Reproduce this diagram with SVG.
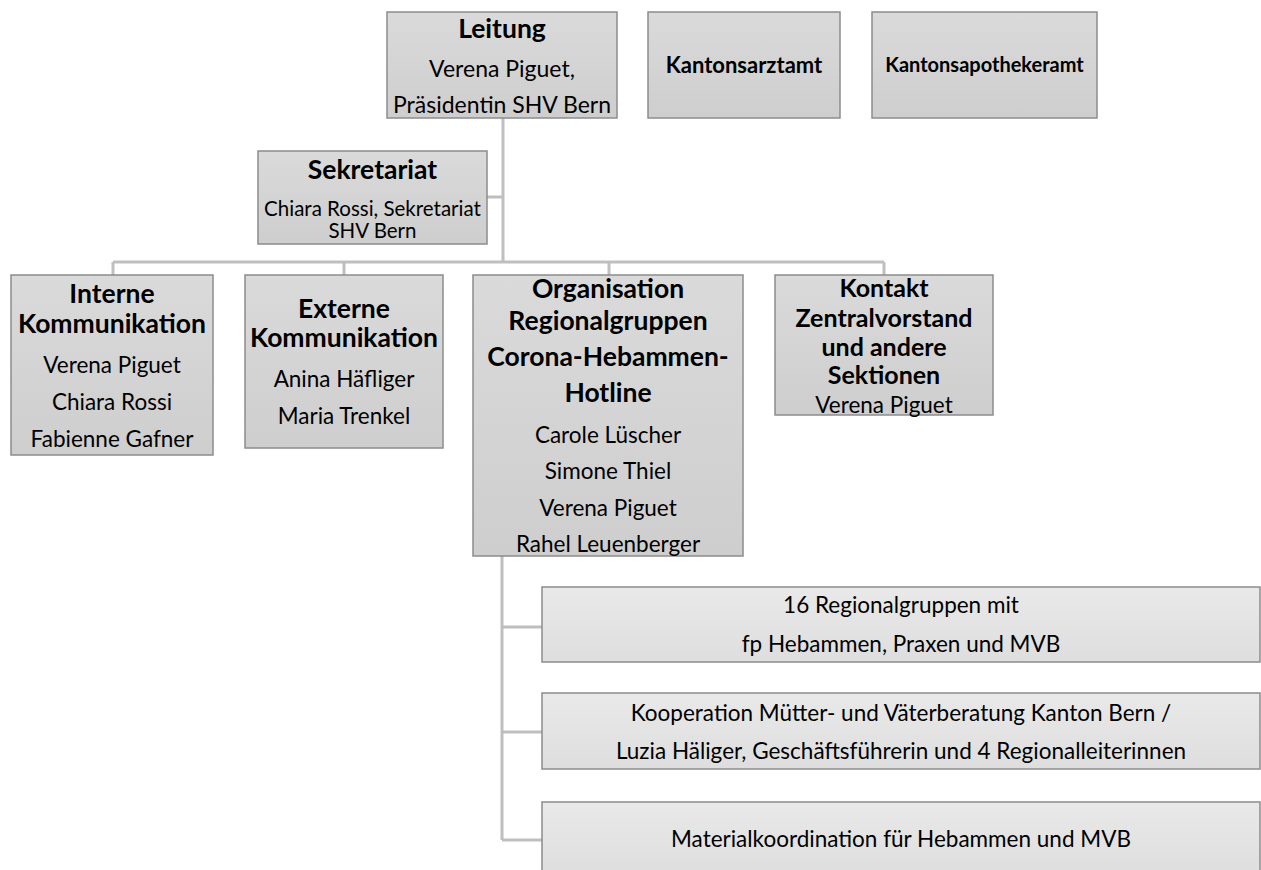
<svg xmlns="http://www.w3.org/2000/svg" width="1261" height="870" viewBox="0 0 1261 870">
<defs>
<linearGradient id="g1" x1="0" y1="0" x2="0" y2="1"><stop offset="0" stop-color="#dadada"/><stop offset="1" stop-color="#cecece"/></linearGradient>
<linearGradient id="g2" x1="0" y1="0" x2="0" y2="1"><stop offset="0" stop-color="#e9e9e9"/><stop offset="1" stop-color="#dedede"/></linearGradient>
<style>
.b{fill:url(#g1);stroke:#8c8c8c;stroke-width:1.5}
.b2{fill:url(#g2);stroke:#8c8c8c;stroke-width:1.5}
.c{fill:none;stroke:#bfbfbf;stroke-width:3}
text{font-family:Lato,"Liberation Sans",sans-serif;fill:#000;text-anchor:middle}
.t{font-weight:bold;font-size:26.5px}
.tk{font-weight:bold;font-size:25px}
.ts{font-weight:bold;font-size:22px}
.ta{font-weight:bold;font-size:20px}
.r{font-size:22.5px}
.rl{font-size:23px}
.rs{font-size:20.5px}
</style>
</defs>
<rect width="1261" height="870" fill="#fff"/>
<g id="connectors">
<path class="c" d="M503 118V262M487 197H503M113 262H884M113 262V275M344 262V275M609 262V275M884 262V275"/>
<path class="c" d="M502 556V840M502 627H542M502 732H542M502 840H542"/>
</g>
<g id="leitung">
<rect class="b" x="387" y="12" width="230" height="106"/>
<text class="t" x="502" y="38">Leitung</text>
<text class="rl" x="502" y="77">Verena Piguet,</text>
<text class="rl" x="502" y="113">Präsidentin SHV Bern</text>
</g>
<g id="kantonsarztamt">
<rect class="b" x="648" y="12" width="192" height="106"/>
<text class="ts" x="744" y="73">Kantonsarztamt</text>
</g>
<g id="kantonsapothekeramt">
<rect class="b" x="872" y="12" width="225" height="106"/>
<text class="ta" x="984.5" y="72">Kantonsapothekeramt</text>
</g>
<g id="sekretariat">
<rect class="b" x="258" y="151" width="229" height="93"/>
<text class="t" x="372.5" y="179">Sekretariat</text>
<text class="rs" x="372.5" y="216">Chiara Rossi, Sekretariat</text>
<text class="rs" x="372.5" y="238">SHV Bern</text>
</g>
<g id="interne">
<rect class="b" x="11" y="275" width="202" height="180"/>
<text class="t" x="112" y="303">Interne</text>
<text class="t" x="112" y="333">Kommunikation</text>
<text class="r" x="112" y="373">Verena Piguet</text>
<text class="r" x="112" y="410">Chiara Rossi</text>
<text class="r" x="112" y="447">Fabienne Gafner</text>
</g>
<g id="externe">
<rect class="b" x="245" y="275" width="198" height="173"/>
<text class="t" x="344" y="318">Externe</text>
<text class="t" x="344" y="347">Kommunikation</text>
<text class="r" x="344" y="387">Anina Häfliger</text>
<text class="r" x="344" y="424">Maria Trenkel</text>
</g>
<g id="organisation">
<rect class="b" x="473" y="275" width="270" height="281"/>
<text class="t" x="608" y="298">Organisation</text>
<text class="t" x="608" y="330">Regionalgruppen</text>
<text class="t" x="608" y="366">Corona-Hebammen-</text>
<text class="t" x="608" y="402">Hotline</text>
<text class="r" x="608" y="443">Carole Lüscher</text>
<text class="r" x="608" y="479">Simone Thiel</text>
<text class="r" x="608" y="516">Verena Piguet</text>
<text class="r" x="608" y="552">Rahel Leuenberger</text>
</g>
<g id="kontakt">
<rect class="b" x="775" y="275" width="218" height="140"/>
<text class="tk" x="884" y="297">Kontakt</text>
<text class="tk" x="884" y="327">Zentralvorstand</text>
<text class="tk" x="884" y="356">und andere</text>
<text class="tk" x="884" y="384">Sektionen</text>
<text class="r" x="884" y="413">Verena Piguet</text>
</g>
<g id="regionalgruppen">
<rect class="b2" x="542" y="587" width="718" height="75"/>
<text class="r" x="901" y="613">16 Regionalgruppen mit</text>
<text class="r" x="901" y="652">fp Hebammen, Praxen und MVB</text>
</g>
<g id="kooperation">
<rect class="b2" x="542" y="693" width="718" height="76"/>
<text class="r" x="901" y="721">Kooperation Mütter- und Väterberatung Kanton Bern /</text>
<text class="r" x="901" y="759">Luzia Häliger, Geschäftsführerin und 4 Regionalleiterinnen</text>
</g>
<g id="material">
<rect class="b2" x="542" y="802" width="718" height="72"/>
<text class="r" x="901" y="847">Materialkoordination für Hebammen und MVB</text>
</g>
</svg>
